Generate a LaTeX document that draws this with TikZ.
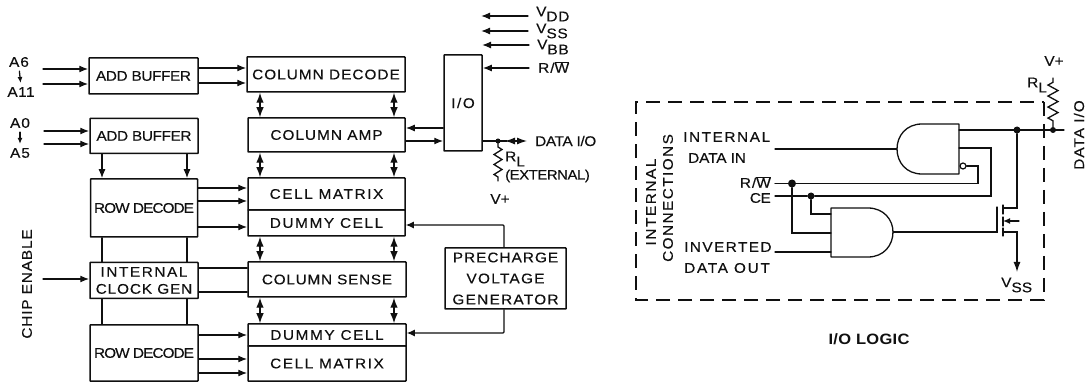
\documentclass[tikz,border=0pt]{standalone}
\usepackage{fontspec}
\setmainfont{Liberation Sans}[FakeStretch=1.1,FakeBold=0.25]
\newfontfamily\lblbold{Liberation Sans Bold}[FakeStretch=1.1,LetterSpace=2]
\usetikzlibrary{arrows.meta,decorations.pathmorphing,calc}
\definecolor{ink}{HTML}{101010}
\newcommand{\ls}[1]{\addfontfeature{LetterSpace=#1}}
\newcommand{\subs}[1]{\raisebox{-0.36em}{#1}}
\newcommand{\ovW}{\ensuremath{\overline{\mbox{W}}}}
\tikzset{
  wire/.style={draw=ink,line width=1.3pt,line cap=round},
  arr/.style={wire,-{Latex[length=9pt,width=7pt]}},
  barr/.style={wire,{Latex[length=10pt,width=7.5pt]}-{Latex[length=10pt,width=7.5pt]}},
  block/.style={draw=ink,line width=1.5pt,inner sep=0pt,align=center,text=ink,font=\fontsize{14}{17}\selectfont,rounded corners=0.5pt},
  lbl/.style={inner sep=0pt,text=ink,font=\fontsize{14}{17}\selectfont,align=center},
  res/.style={wire,decorate,decoration={zigzag,segment length=10pt,amplitude=4pt,pre length=6pt,post length=2pt}},
  dotn/.style={circle,fill=ink,inner sep=0pt,minimum size=#1},
  dash box/.style={draw=ink,line width=1.4pt,dash pattern=on 14pt off 8pt},
}
\begin{document}
\begin{tikzpicture}[x=1pt,y=-1pt]
\useasboundingbox (0,0) rectangle (1088,382);
% blocks
\node[block,minimum width=109pt,minimum height=36pt] (ab1) at (143.5,76) {\ls{-3}ADD BUFFER};
\node[block,minimum width=108pt,minimum height=35pt] (ab2) at (144,136) {\ls{-3}ADD BUFFER};
\node[block,minimum width=107pt,minimum height=58pt] (rd1) at (144,208) {\ls{-7}ROW DECODE};
\node[block,minimum width=108pt,minimum height=36pt] (clk) at (144,280.5) {\ls{11}INTERNAL\\\ls{6}CLOCK GEN};
\node[block,minimum width=108pt,minimum height=56pt] (rd2) at (144,353) {\ls{-7}ROW DECODE};
\node[block,minimum width=158pt,minimum height=35pt] (cd) at (326,74.5) {\ls{7}COLUMN DECODE};
\node[block,minimum width=157pt,minimum height=34pt] (ca) at (326.5,135) {\ls{7}COLUMN AMP};
\node[block,minimum width=157pt,minimum height=32pt] (cm1) at (326.5,194) {\ls{11}CELL MATRIX};
\node[block,minimum width=157pt,minimum height=26pt] (dc1) at (326.5,223) {\ls{11}DUMMY CELL};
\node[block,minimum width=158pt,minimum height=35pt] (cs) at (327,279.5) {\ls{5}COLUMN SENSE};
\node[block,minimum width=158pt,minimum height=22pt] (dc2) at (327,335) {\ls{11}DUMMY CELL};
\node[block,minimum width=158pt,minimum height=35pt] (cm2) at (327,363.5) {\ls{11}CELL MATRIX};
\node[block,minimum width=38pt,minimum height=96pt] (io) at (463,103) {\ls{11}I/O};
\node[block,minimum width=121pt,minimum height=61pt,font=\fontsize{14}{21}\selectfont] (pc) at (505.5,278.5) {\ls{7}PRECHARGE\\\ls{9}VOLTAGE\\\ls{9}GENERATOR};
% left labels
\node[lbl] (a6) at (19,62) {\ls{7}A6};
\node[lbl] (a11) at (21,92) {\ls{3}A11};
\node[lbl] (a0) at (20,123) {\ls{7}A0};
\node[lbl] (a5) at (20,153) {\ls{7}A5};
\node[lbl,rotate=90] (ce) at (27,284) {\ls{6}CHIP ENABLE};
\draw[wire,-{Latex[length=6pt,width=5pt]},shorten <=4pt,shorten >=4pt] (a6.south) -- (a11.north);
\draw[wire,-{Latex[length=6pt,width=5pt]},shorten <=4pt,shorten >=4pt] (a0.south) -- (a5.north);
\coordinate (i1) at (43,69); \coordinate (i2) at (43,84);
\coordinate (i3) at (44,131); \coordinate (i4) at (44,144);
\coordinate (i5) at (43,279);
\draw[arr] (i1) -- (i1-|ab1.west);
\draw[arr] (i2) -- (i2-|ab1.west);
\draw[arr] (i3) -- (i3-|ab2.west);
\draw[arr] (i4) -- (i4-|ab2.west);
\draw[arr] (i5) -- (i5-|clk.west);
% horizontal links
\foreach \y in {68,83} \draw[arr] (ab1.east|-0,\y) -- (cd.west|-0,\y);
\foreach \y in {188,201} \draw[arr] (rd1.east|-0,\y) -- (cm1.west|-0,\y);
\draw[arr] (rd1.east|-0,227) -- (dc1.west|-0,227);
\foreach \y in {268,292} \draw[wire] (clk.east|-0,\y) -- (cs.west|-0,\y);
\draw[arr] (rd2.east|-0,335) -- (dc2.west|-0,335);
\foreach \y in {359,373} \draw[arr] (rd2.east|-0,\y) -- (cm2.west|-0,\y);
% vertical links
\foreach \x in {102,187} {
  \draw[arr] (\x,0|-ab2.south) -- (\x,0|-rd1.north);
  \draw[wire] (\x,0|-rd1.south) -- (\x,0|-clk.north);
  \draw[wire] (\x,0|-clk.south) -- (\x,0|-rd2.north);
}
\foreach \x in {260,394} {
  \draw[barr] (\x,0|-cd.south) -- (\x,0|-ca.north);
  \draw[barr] (\x,0|-ca.south) -- (\x,0|-cm1.north);
  \draw[barr] (\x,0|-dc1.south) -- (\x,0|-cs.north);
  \draw[barr] (\x,0|-cs.south) -- (\x,0|-dc2.north);
}
% I/O
\draw[arr] (io.west|-0,128) -- (ca.east|-0,128);
\draw[arr] (ca.east|-0,141) -- (io.west|-0,141);
\node[lbl,anchor=west] (vdd) at (536,14) {\ls{5}V\subs{DD}};
\node[lbl,anchor=west] (vss) at (536,31) {\ls{5}V\subs{SS}};
\node[lbl,anchor=west] (vbb) at (537,47) {\ls{5}V\subs{BB}};
\node[lbl,anchor=west] (rw) at (538,67) {\ls{7}R/\ovW};
\coordinate (p1) at (481,16); \coordinate (p2) at (481,31); \coordinate (p3) at (482,45);
\draw[arr] (p1-|vdd.west) ++(-8,0) -- (p1);
\draw[arr] (p2-|vss.west) ++(-8,0) -- (p2);
\draw[arr] (p3-|vbb.west) ++(-8,0) -- (p3);
\coordinate (rwy) at (529,68);
\draw[arr] (rwy) -- (rwy-|io.east);
\node[lbl,anchor=west] (dio) at (535,141) {\ls{-3}DATA I/O};
\coordinate (dj) at (498,141);
\coordinate (rb) at (498,181);
\draw[wire] (dj-|io.east) -- (dj);
\draw[wire] (dj) -- (507,141);
\draw[wire,{Latex[length=10pt,width=7pt]}-{Latex[length=10pt,width=7pt]}] (505,141) -- (527,141);
\node[dotn=5pt] (dj0) at (dj) {};
\draw[res] (dj) -- (rb);
\node[lbl,anchor=west] (rl) at (505,159) {\ls{1}R\subs{L}};
\node[lbl,anchor=west,font=\fontsize{13.5}{16}\selectfont] (ext) at (505,176) {\ls{-3}(EXTERNAL)};
\node[lbl] (vp) at (500,199) {V+};
% precharge
\coordinate (pu) at (504,225); \coordinate (pd) at (504,333);
\draw[wire,rounded corners=1pt,-{Latex[length=8pt,width=7pt]}] (pc.north-|pu) -- (pu) -- (pu-|dc1.east);
\draw[wire,rounded corners=1pt,-{Latex[length=8pt,width=7pt]}] (pc.south-|pd) -- (pd) -- (pd-|dc2.east);
% ---------- right panel ----------
\draw[dash box] (1044,102) rectangle (636,300);
\node[lbl,anchor=west] (t1) at (683,137) {\ls{11}INTERNAL};
\node[lbl,anchor=west] (t2) at (688,158) {\ls{-1}DATA IN};
\node[lbl,anchor=east] (t3) at (771,182) {\ls{7}R/\ovW};
\node[lbl,anchor=east] (t4) at (771,198) {\ls{-3}CE};
\node[lbl,anchor=west] (t5) at (684,247) {\ls{10}INVERTED};
\node[lbl,anchor=west] (t6) at (684,268) {\ls{12}DATA OUT};
\node[lbl,rotate=90] (t7) at (651,202) {\ls{11}INTERNAL};
\node[lbl,rotate=90] (t8) at (668,198) {\ls{10}CONNECTIONS};
% gates
\coordinate (g1l) at (897,149); \coordinate (g1o) at (959,130);
\coordinate (g1c) at (959,148);
\coordinate (g2w1) at (831,214); \coordinate (g2w2) at (831,233); \coordinate (g2w3) at (831,252);
\coordinate (g2o) at (893,232);
\draw[wire,line join=round] (959,124) -- (922,124) .. controls (906,124) and (897,136) .. (g1l) .. controls (897,162) and (906,174) .. (922,174) -- (959,174) -- cycle;
\draw[wire,line join=round] (831,208) -- (868,208) .. controls (884,208) and (893,220) .. (g2o) .. controls (893,245) and (884,257) .. (868,257) -- (831,257) -- cycle;
\node[circle,draw=ink,line width=1.2pt,fill=white,minimum size=6pt,inner sep=0pt] (bub) at (963,166) {};
% wires
\node[dotn=8pt] (rwd) at (792,183.5) {};
\node[dotn=7pt] (ced) at (811,196) {};
\node[dotn=7pt] (od) at (1017,130) {};
\node[dotn=6pt] (od2) at (1053,130) {};
\coordinate (top) at (1064,130);
\draw[wire] (775,149) -- (g1l);
\draw[wire] (775,183.5) -- (rwd) -- (978,183.5) -- (978,166) -- (bub.east);
\draw[wire] (775,196) -- (ced) -- (991,196) -- (991,148) -- (g1c);
\draw[wire] (775,252) -- (g2w3);
\draw[wire] (rwd) |- (g2w2);
\draw[wire] (ced) |- (g2w1);
\draw[wire] (g1o) -- (top);
\coordinate (rt) at (1053,78);
\draw[wire,decorate,decoration={zigzag,segment length=11pt,amplitude=5pt,pre length=6pt,post length=4pt}] (od2) -- (rt);
\node[lbl] (vp2) at (1054,61) {V+};
\node[lbl,anchor=west] (rr) at (1027,85) {\ls{1}R\subs{L}};
\node[lbl,rotate=90] (dio2) at (1079,135) {\ls{7}DATA I/O};
% transistor
\coordinate (gt) at (997,232); \coordinate (gb) at (997,207);
\draw[wire] (g2o) -- (gt) -- (gb);
\draw[wire] (1003,205) -- (1003,214);
\draw[wire] (1003,217) -- (1003,226);
\draw[wire] (1003,228) -- (1003,236);
\draw[wire] (od) |- (1003,208);
\coordinate (vt) at (1017,272);
\draw[wire,-{Latex[length=10pt,width=7pt]}] (1003,232) -- (1017,232) -- (vt);
\draw[wire,-{Latex[length=7pt,width=6pt]}] (1019,221) -- (1003,221);
\node[lbl,anchor=west] (vss2) at (1001,285) {\ls{1}V\subs{SS}};
\node[font=\fontsize{15}{17}\lblbold,text=ink,inner sep=0pt] (logic) at (869,339) {I/O LOGIC};
\end{tikzpicture}
\end{document}
